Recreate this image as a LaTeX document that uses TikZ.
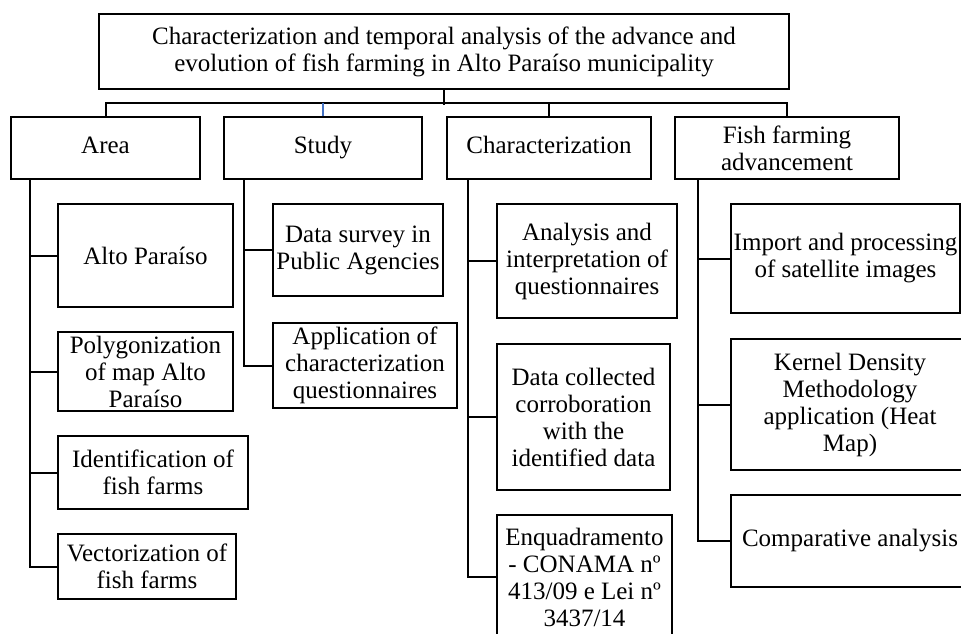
\documentclass[tikz,border=0pt]{standalone}
\usepackage{fontspec}
\setmainfont{Liberation Serif}
\usetikzlibrary{positioning}

\begin{document}
\begin{tikzpicture}[x=1pt,y=-1pt,line width=2pt,
    box/.style={draw,align=center,inner sep=2pt,font=\fontsize{25}{27}\selectfont},
    headbox/.style={box,minimum height=62,text height=17,text depth=6},
    bar/.style={line width=2pt}]
  \clip (0,0) rectangle (961,633);
  \node[box,minimum width=690,minimum height=75] (title) at (444,51.5)
    {Characterization and temporal analysis of the advance and\\evolution of fish farming in Alto Paraíso municipality};
  \node[headbox,minimum width=189] (area)  at (105.5,148) {Area};
  \node[headbox,minimum width=198] (study) at (323,148)   {Study};
  \node[headbox,minimum width=204] (char)  at (549,148)   {Characterization};
  \node[box,minimum width=224,minimum height=62] (fish)  at (787,148)   {Fish farming\\advancement};

  \node[box,minimum width=175,minimum height=103] (alto)  at (145.5,255.5) {Alto Paraíso};
  \node[box,minimum width=175,minimum height=79]  (poly)  at (145.5,371.5) {Polygonization\\of map Alto\\Paraíso};
  \node[box,minimum width=190,minimum height=73]  (ident) at (153,472.5)   {Identification of\\fish farms};
  \node[box,minimum width=178,minimum height=65]  (vect)  at (147,566.5)   {Vectorization of\\fish farms};

  \node[box,minimum width=170,minimum height=92] (survey) at (358,250)   {Data survey in\\Public Agencies};
  \node[box,minimum width=184,minimum height=85] (applic) at (365,365.5) {Application of\\characterization\\questionnaires};

  \node[box,minimum width=180,minimum height=114] (anal)    at (587,261)   {Analysis and\\interpretation of\\questionnaires};
  \node[box,minimum width=173,minimum height=146] (collect) at (583.5,417) {Data collected\\corroboration\\with the\\identified data};
  \node[box,minimum width=175,minimum height=124] (enq)     at (584.5,577) {Enquadramento\\- CONAMA nº\\413/09 e Lei nº\\3437/14};

  \node[box,minimum width=229,minimum height=109] (import) at (845.5,258.5) {Import and processing\\of satellite images};
  \node[box,minimum width=238,minimum height=131] (kernel) at (850,404.5)   {Kernel Density\\Methodology\\application (Heat\\Map)};
  \node[box,minimum width=238,minimum height=92]  (comp)   at (850,541)     {Comparative analysis};

  \draw[bar] (title.south) -- ++(0,15);
  \draw[bar] (area.north) -- ++(0,-13) -| (fish.north);
  \draw[bar,color={rgb,255:red,68;green,114;blue,196}] (study.north) -- ++(0,-13);
  \draw[bar] (char.north) -- ++(0,-13);

  \coordinate (areabar)  at (30,179);
  \coordinate (studybar) at (244,179);
  \coordinate (charbar)  at (468,179);
  \coordinate (fishbar)  at (698,179);

  \draw[bar] (areabar) |- (vect.west);
  \foreach \n in {alto,poly,ident}
    \draw[bar] (\n.west) -- (\n.west -| areabar);
  \draw[bar] (studybar) |- (applic.west);
  \draw[bar] (survey.west) -- (survey.west -| studybar);
  \draw[bar] (charbar) |- (enq.west);
  \foreach \n in {anal,collect}
    \draw[bar] (\n.west) -- (\n.west -| charbar);
  \draw[bar] (fishbar) |- (comp.west);
  \foreach \n in {import,kernel}
    \draw[bar] (\n.west) -- (\n.west -| fishbar);
\end{tikzpicture}
\end{document}
